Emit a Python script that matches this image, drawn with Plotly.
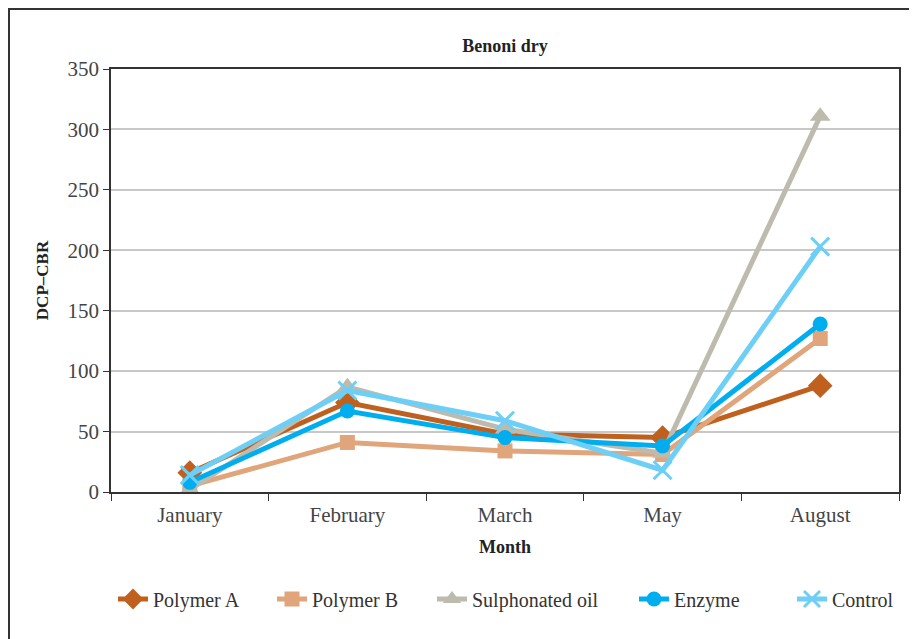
import plotly.graph_objects as go

months = ["January", "February", "March", "May", "August"]
polymer_a = [16, 74, 48, 45, 88]
polymer_b = [5, 41, 34, 31, 127]
sulphonated_oil = [2, 87, 52, 32, 311]
enzyme = [8, 67, 45, 38, 139]
control = [14, 84, 59, 18, 203]

series_names = ["Polymer A", "Polymer B", "Sulphonated oil", "Enzyme", "Control"]
series_values = [polymer_a, polymer_b, sulphonated_oil, enzyme, control]
colors = ["#C0601E", "#E0A57A", "#BDBBAE", "#00AEEF", "#6DCFF6"]
symbols = ["diamond", "square", "triangle-up", "circle", "x-thin"]
sizes = [19, 15, 18, 15, 18]

FONT = "Liberation Serif"
# page has an 8px body margin; figure geometry compensates for it
OFF = 8
W, H = 909, 631
L, R, T, B = 103, 18, 61, 147
pw, ph = W - L - R, H - T - B

fig = go.Figure()
legend_text_px = [153, 312, 472, 674, 832]
legend_keys = ["legend", "legend2", "legend3", "legend4", "legend5"]
for i, (name, vals) in enumerate(zip(series_names, series_values)):
    marker = dict(symbol=symbols[i], size=sizes[i], color=colors[i])
    if symbols[i] == "x-thin":
        marker["line"] = dict(color=colors[i], width=3)
    fig.add_trace(go.Scatter(
        x=months, y=vals, name=name, mode="lines+markers",
        line=dict(color=colors[i], width=5),
        marker=marker, legend=legend_keys[i],
    ))

layout_legends = {}
for i, key in enumerate(legend_keys):
    layout_legends[key] = dict(
        x=(legend_text_px[i] - 40 - OFF - L) / pw, xanchor="left",
        y=(H - B - (599 - OFF)) / ph, yanchor="middle",
        orientation="h", bgcolor="rgba(0,0,0,0)",
        font=dict(family=FONT, size=20, color="#333333"),
    )

fig.update_layout(
    width=W, height=H,
    margin=dict(l=L, r=R, t=T, b=B),
    paper_bgcolor="white", plot_bgcolor="white",
    title=dict(text="<b>Benoni dry</b>", x=(505 - OFF) / W, xanchor="center",
               y=1 - (46 - OFF) / H, yanchor="middle",
               font=dict(family=FONT, size=18, color="#222222")),
    font=dict(family=FONT, size=20, color="#444444"),
    showlegend=True,
    **layout_legends,
)
fig.update_xaxes(
    range=[-0.5, 4.5],
    showline=True, linecolor="#333333", linewidth=1.5, mirror=True,
    ticks="outside", tickson="boundaries", ticklen=7, tickcolor="#333333",
    showgrid=False, ticklabelstandoff=3,
    tickfont=dict(family=FONT, size=21, color="#444444"),
    title=dict(text="<b>Month</b>", font=dict(family=FONT, size=18, color="#222222"), standoff=14),
)
fig.update_yaxes(
    range=[0, 350], dtick=50,
    showline=True, linecolor="#333333", linewidth=1.5, mirror=True,
    ticks="outside", ticklen=6, tickcolor="#333333",
    showgrid=True, gridcolor="#C8C8C8", gridwidth=1.5, zeroline=False,
    tickfont=dict(family=FONT, size=21, color="#444444"),
    title=dict(text="<b>DCP–CBR</b>", font=dict(family=FONT, size=17, color="#222222"), standoff=15),
)

# outer frame (top and left edges of a box extending past the page)
fig.add_shape(type="rect", xref="paper", yref="paper",
              x0=(1 - L) / pw, x1=(W + 20 - L) / pw,
              y0=(H - B - (H + 20)) / ph, y1=(H - B - 1) / ph,
              line=dict(color="#333333", width=2), fillcolor="rgba(0,0,0,0)")

fig.write_html("out.html")
